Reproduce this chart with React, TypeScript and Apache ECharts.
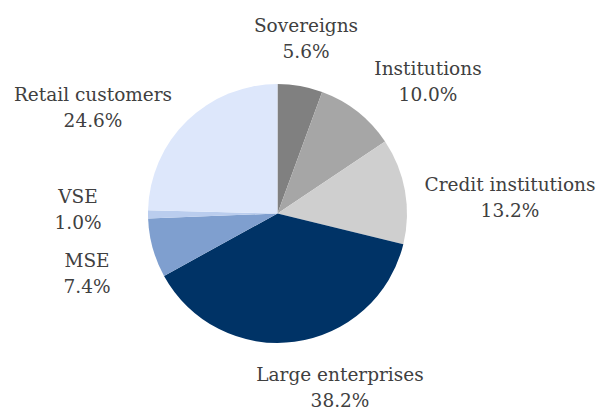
import React, { useEffect, useRef } from "react";
import * as echarts from "echarts";

const categories = [
  "Sovereigns",
  "Institutions",
  "Credit institutions",
  "Large enterprises",
  "MSE",
  "VSE",
  "Retail customers",
];
const shares = [5.6, 10.0, 13.2, 38.2, 7.4, 1.0, 24.6];
const sliceColors = ["#808080", "#a6a6a6", "#cfcfcf", "#003366", "#7f9fcf", "#bacdee", "#dde7fb"];
// label block centres (layout only)
const labelCentres: [number, number][] = [
  [306, 38],
  [428, 81],
  [510, 197],
  [340, 387],
  [87, 273],
  [78, 209],
  [93, 107],
];

export default function App() {
  const ref = useRef<HTMLDivElement>(null);
  useEffect(() => {
    if (!ref.current) return;
    const chart = echarts.init(ref.current, undefined, { renderer: "svg" });
    chart.setOption({
      animation: false,
      backgroundColor: "#ffffff",
      series: [
        {
          type: "pie",
          center: [277.5, 213.5],
          radius: 129.5,
          startAngle: 90,
          clockwise: true,
          avoidLabelOverlap: false,
          itemStyle: { borderWidth: 0 },
          emphasis: { disabled: true },
          label: {
            show: true,
            position: "outside",
            formatter: (p: any) => `${p.name}\n${Number(p.value).toFixed(1)}%`,
            fontFamily: "DejaVu Serif",
            fontSize: 18.5,
            lineHeight: 26,
            color: "#404040",
            align: "center",
          },
          labelLine: { show: false },
          labelLayout: (params: any) => {
            const c = labelCentres[params.dataIndex];
            return { x: c[0], y: c[1], align: "center", verticalAlign: "middle" };
          },
          data: categories.map((name, i) => ({
            name,
            value: shares[i],
            itemStyle: { color: sliceColors[i] },
          })),
        },
      ],
    });
    return () => chart.dispose();
  }, []);
  return (
    <div
      ref={ref}
      style={{ position: "fixed", left: 0, top: 0, width: 600, height: 410 }}
    />
  );
}
